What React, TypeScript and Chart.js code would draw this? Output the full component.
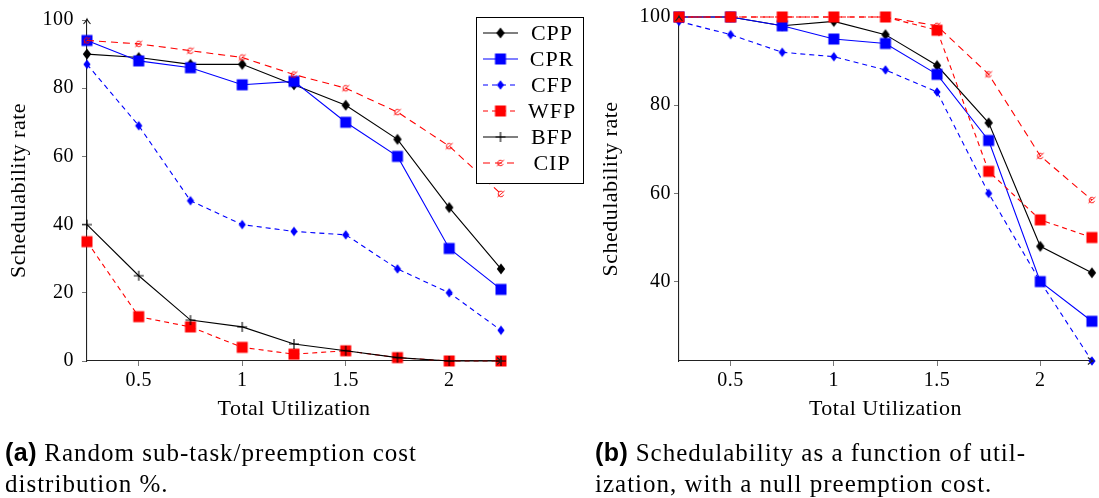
import React, { useEffect, useRef } from 'react';
import { Chart, registerables } from 'chart.js';

Chart.register(...registerables);

// ---------- data ----------
const xValues = [0.25, 0.5, 0.75, 1, 1.25, 1.5, 1.75, 2, 2.25];
const xTickValues = [0.5, 1, 1.5, 2];
const xTickLabels = ['0.5', '1', '1.5', '2'];
const yTickValuesA = [0, 20, 40, 60, 80, 100];
const yTickLabelsA = ['0', '20', '40', '60', '80', '100'];
const yTickValuesB = [40, 60, 80, 100];
const yTickLabelsB = ['40', '60', '80', '100'];

// (a) random sub-task / preemption cost
const cppA = [90, 89, 87, 87, 81, 75, 65, 45, 27];
const cprA = [94, 88, 86, 81, 82, 70, 60, 33, 21];
const cfpA = [87, 69, 47, 40, 38, 37, 27, 20, 9];
const wfpA = [35, 13, 10, 4, 2, 3, 1, 0, 0];
const bfpA = [40, 25, 12, 10, 5, 3, 1, 0, 0];
const cipA = [94, 93, 91, 89, 84, 80, 73, 63, 49];

// (b) null preemption cost
const cppB = [100, 100, 98, 99, 96, 89, 76, 48, 42];
const cprB = [100, 100, 98, 95, 94, 87, 72, 40, 31];
const cfpB = [99, 96, 92, 91, 88, 83, 60, 40, 22];
const wfpB = [100, 100, 100, 100, 100, 97, 65, 54, 50];
const cipB = [100, 100, 100, 100, 100, 98, 87, 68.5, 58.5];

const seriesLabels = ['CPP', 'CPR', 'CFP', 'WFP', 'BFP', 'CIP'];

const SERIF = "'Liberation Serif', 'Times New Roman', serif";

// ---------- styles ----------
type Style = { color: string; dash: number[]; width: number; marker: string };
const styleOf: Record<string, Style> = {
  CPP: { color: '#000000', dash: [], width: 1.1, marker: 'diamond' },
  CPR: { color: '#0000ff', dash: [], width: 1.1, marker: 'square' },
  CFP: { color: '#0000ff', dash: [5, 4], width: 1.1, marker: 'diamondSmall' },
  WFP: { color: '#ff0000', dash: [5, 4], width: 1.1, marker: 'square' },
  BFP: { color: '#000000', dash: [], width: 1.1, marker: 'plus' },
  CIP: { color: '#ff0000', dash: [7, 5], width: 1.1, marker: 'cip' },
};

function makeMarker(kind: string, color: string): HTMLCanvasElement {
  const c = document.createElement('canvas');
  c.width = 16;
  c.height = 16;
  const ctx = c.getContext('2d')!;
  const m = 8;
  ctx.fillStyle = color;
  ctx.strokeStyle = color;
  if (kind === 'diamond' || kind === 'diamondSmall') {
    const w = kind === 'diamond' ? 4.2 : 3.6;
    const h = kind === 'diamond' ? 5.6 : 4.8;
    ctx.beginPath();
    ctx.moveTo(m - w, m);
    ctx.lineTo(m, m - h);
    ctx.lineTo(m + w, m);
    ctx.lineTo(m, m + h);
    ctx.closePath();
    ctx.fill();
  } else if (kind === 'square') {
    ctx.fillRect(m - 5.5, m - 5.5, 11, 11);
  } else if (kind === 'plus') {
    ctx.lineWidth = 1.1;
    ctx.beginPath();
    ctx.moveTo(m - 5, m);
    ctx.lineTo(m + 5, m);
    ctx.moveTo(m, m - 5);
    ctx.lineTo(m, m + 5);
    ctx.stroke();
  } else if (kind === 'cip') {
    ctx.lineWidth = 0.9;
    ctx.beginPath();
    ctx.arc(m, m, 2.8, 0.3, Math.PI * 1.7);
    ctx.stroke();
    ctx.beginPath();
    ctx.moveTo(m - 3.5, m + 3);
    ctx.lineTo(m + 3.5, m - 3);
    ctx.stroke();
  }
  return c;
}

type Series = { label: string; values: number[] };

function buildChart(
  canvas: HTMLCanvasElement,
  series: Series[],
  yMin: number,
  yMax: number,
  yTickValues: number[],
  yTickLabels: string[],
  paddingRight: number,
  yLabelPad: number,
  withLegend: boolean
) {
  const markers: Record<string, HTMLCanvasElement> = {};
  series.forEach((s) => {
    const st = styleOf[s.label];
    markers[s.label] = makeMarker(st.marker, st.color);
  });

  const spacingPlugin = {
    id: 'letterSpacing',
    beforeLayout(chart: any) {
      (chart.ctx as any).letterSpacing = '0.5px';
    },
    beforeDraw(chart: any) {
      (chart.ctx as any).letterSpacing = '0.5px';
    },
  };

  const arrowPlugin = {
    id: 'axisArrows',
    afterDatasetsDraw(chart: any) {
      const { ctx, chartArea } = chart;
      ctx.save();
      ctx.strokeStyle = '#222';
      ctx.lineWidth = 1.1;
      ctx.setLineDash([]);
      const xr = chartArea.right + 1;
      const yb = chartArea.bottom;
      ctx.beginPath();
      ctx.moveTo(xr - 5, yb - 3.5);
      ctx.quadraticCurveTo(xr - 2, yb - 0.8, xr, yb);
      ctx.quadraticCurveTo(xr - 2, yb + 0.8, xr - 5, yb + 3.5);
      ctx.moveTo(chartArea.right - 1, yb);
      ctx.lineTo(xr, yb);
      ctx.stroke();
      const xl = chartArea.left;
      const yt = chartArea.top - 1;
      ctx.beginPath();
      ctx.moveTo(xl - 3.5, yt + 5);
      ctx.quadraticCurveTo(xl - 0.8, yt + 2, xl, yt);
      ctx.quadraticCurveTo(xl + 0.8, yt + 2, xl + 3.5, yt + 5);
      ctx.moveTo(xl, chartArea.top + 1);
      ctx.lineTo(xl, yt);
      ctx.stroke();
      ctx.restore();
    },
  };

  const legendPlugin = {
    id: 'boxLegend',
    afterDraw(chart: any) {
      if (!withLegend) return;
      const ctx = chart.ctx;
      ctx.save();
      ctx.fillStyle = '#ffffff';
      ctx.fillRect(477, 17, 106, 166);
      ctx.strokeStyle = '#000';
      ctx.lineWidth = 1;
      ctx.setLineDash([]);
      ctx.strokeRect(476.5, 17.5, 107, 166);
      series.forEach((s, i) => {
        const st = styleOf[s.label];
        const y = 33 + i * 26;
        ctx.strokeStyle = st.color;
        ctx.lineWidth = st.width;
        ctx.setLineDash(st.dash);
        ctx.beginPath();
        ctx.moveTo(483, y);
        ctx.lineTo(518, y);
        ctx.stroke();
        ctx.setLineDash([]);
        const img = markers[s.label];
        ctx.drawImage(img, 500.5 - img.width / 2, y - img.height / 2);
        ctx.fillStyle = '#000';
        ctx.font = `22px ${SERIF}`;
        (ctx as any).letterSpacing = '1px';
        ctx.textAlign = 'center';
        ctx.textBaseline = 'middle';
        ctx.fillText(s.label, 552, y + 1);
      });
      ctx.restore();
    },
  };

  const n = series.length;
  return new Chart(canvas, {
    type: 'line',
    data: {
      datasets: series.map((s, i) => {
        const st = styleOf[s.label];
        return {
          label: s.label,
          data: xValues.map((x, j) => ({ x, y: s.values[j] })),
          borderColor: st.color,
          backgroundColor: st.color,
          borderWidth: st.width,
          borderDash: st.dash,
          pointStyle: markers[s.label],
          pointRadius: 6,
          pointHoverRadius: 6,
          tension: 0,
          fill: false,
          clip: false,
          order: n - i,
        } as any;
      }),
    },
    options: {
      responsive: false,
      animation: false,
      events: [],
      layout: { padding: { left: 0, top: 17, right: paddingRight, bottom: 0 } },
      plugins: { legend: { display: false }, tooltip: { enabled: false } },
      scales: {
        x: {
          type: 'linear',
          min: 0.25,
          max: 2.25,
          afterBuildTicks: (s: any) => {
            s.ticks = xTickValues.map((v) => ({ value: v }));
          },
          afterFit: (s: any) => {
            s.height = 79;
          },
          grid: { drawOnChartArea: false, drawTicks: true, tickLength: 5, color: '#777' },
          border: { display: true, color: '#222', width: 1.1 },
          ticks: {
            autoSkip: false,
            maxRotation: 0,
            padding: 3,
            color: '#000',
            font: { family: SERIF, size: 20 },
            callback: (v: any) => {
              const k = xTickValues.indexOf(Number(v));
              return k >= 0 ? xTickLabels[k] : '';
            },
          },
          title: {
            display: true,
            text: 'Total Utilization',
            color: '#000',
            font: { family: SERIF, size: 22 },
            padding: { top: 0, bottom: 18 },
          },
        },
        y: {
          type: 'linear',
          min: yMin,
          max: yMax,
          afterBuildTicks: (s: any) => {
            s.ticks = yTickValues.map((v) => ({ value: v }));
          },
          afterFit: (s: any) => {
            s.width = 87;
          },
          grid: { drawOnChartArea: false, drawTicks: true, tickLength: 5, color: '#777' },
          border: { display: true, color: '#222', width: 1.1 },
          ticks: {
            padding: yLabelPad,
            color: '#000',
            font: { family: SERIF, size: 20 },
            callback: (v: any) => {
              const k = yTickValues.indexOf(Number(v));
              return k >= 0 ? yTickLabels[k] : '';
            },
          },
          title: {
            display: true,
            text: 'Schedulability rate',
            color: '#000',
            font: { family: SERIF, size: 22 },
            padding: { top: 6, bottom: 0 },
          },
        },
      },
    },
    plugins: [spacingPlugin, arrowPlugin, legendPlugin],
  } as any);
}

export default function App() {
  const leftRef = useRef<HTMLCanvasElement>(null);
  const rightRef = useRef<HTMLCanvasElement>(null);

  useEffect(() => {
    const seriesA: Series[] = [
      { label: seriesLabels[0], values: cppA },
      { label: seriesLabels[1], values: cprA },
      { label: seriesLabels[2], values: cfpA },
      { label: seriesLabels[3], values: wfpA },
      { label: seriesLabels[4], values: bfpA },
      { label: seriesLabels[5], values: cipA },
    ];
    const seriesB: Series[] = [
      { label: seriesLabels[0], values: cppB },
      { label: seriesLabels[1], values: cprB },
      { label: seriesLabels[2], values: cfpB },
      { label: seriesLabels[3], values: wfpB },
      { label: seriesLabels[5], values: cipB },
    ];
    const a = buildChart(leftRef.current!, seriesA, 0, 100, yTickValuesA, yTickLabelsA, 91, 8, true);
    const b = buildChart(rightRef.current!, seriesB, 22, 100, yTickValuesB, yTickLabelsB, 5, 3, false);
    return () => {
      a.destroy();
      b.destroy();
    };
  }, []);

  const captionStyle: React.CSSProperties = {
    position: 'absolute',
    top: 437,
    fontFamily: SERIF,
    fontSize: 25,
    lineHeight: '31px',
    letterSpacing: '1px',
    color: '#000',
    whiteSpace: 'nowrap',
  };
  const boldStyle: React.CSSProperties = {
    fontFamily: "'Liberation Sans', Arial, sans-serif",
    fontWeight: 700,
    fontSize: 25,
    letterSpacing: '0.5px',
  };

  return (
    <div
      style={{
        position: 'absolute',
        left: 0,
        top: 0,
        width: 1099,
        height: 498,
        overflow: 'hidden',
        background: '#fff',
      }}
    >
      <canvas
        ref={leftRef}
        width={592}
        height={440}
        style={{ position: 'absolute', left: 0, top: 0, width: 592, height: 440 }}
      />
      <canvas
        ref={rightRef}
        width={507}
        height={440}
        style={{ position: 'absolute', left: 592, top: 0, width: 507, height: 440 }}
      />
      <div style={{ ...captionStyle, left: 5 }}>
        <span style={boldStyle}>(a)</span> Random sub-task/preemption cost
        <br />
        distribution %.
      </div>
      <div style={{ ...captionStyle, left: 595 }}>
        <span style={boldStyle}>(b)</span> Schedulability as a function of util-
        <br />
        ization, with a null preemption cost.
      </div>
    </div>
  );
}
